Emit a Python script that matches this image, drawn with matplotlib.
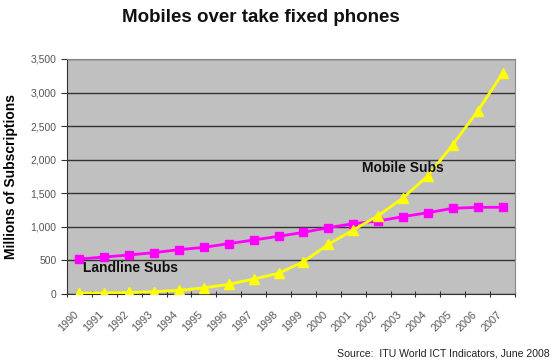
import matplotlib
matplotlib.use("Agg")
import matplotlib.pyplot as plt
from matplotlib.transforms import ScaledTranslation
import numpy as np

years = [str(y) for y in range(1990, 2008)]
landline = [521, 551, 581, 616, 660, 695, 750, 804, 859, 918, 988, 1047, 1087, 1152, 1211, 1276, 1291, 1291]
mobile = [11, 16, 23, 34, 55, 91, 144, 223, 308, 481, 740, 953, 1167, 1430, 1762, 2224, 2725, 3286]
yticks = [0, 500, 1000, 1500, 2000, 2500, 3000, 3500]

plt.rcParams['font.family'] = ['Liberation Sans', 'DejaVu Sans']
fig = plt.figure(figsize=(5.55, 3.64), dpi=100)
ax = fig.add_axes([0.1207, 0.1923, 0.8073, 0.6457])
ax.set_facecolor('#C0C0C0')
x = np.arange(len(years))
ax.plot(x, landline, color='#FF00FF', lw=2, marker='s', ms=6, zorder=3)
ax.plot(x, mobile, color='#FFFF00', lw=2, marker='^', ms=7, zorder=3)

ax.set_xlim(-0.5, len(years) - 0.5)
ax.set_ylim(0, 3500)
ax.set_yticks(yticks)
ax.set_yticklabels([f"{v:,}" for v in yticks], fontsize=7.5, color='#555555')
ax.yaxis.grid(True, color='#333333', lw=1)
ax.set_axisbelow(True)
ax.set_xticks(np.arange(-0.5, len(years), 1))
ax.set_xticklabels([])
ax.set_xticks(x, minor=True)
ax.set_xticklabels(years, minor=True, rotation=45, ha='right', rotation_mode='anchor', fontsize=7.8, color='#555555')
ax.tick_params(axis='x', which='minor', length=0, pad=11)
ax.tick_params(axis='x', which='major', length=4, direction='inout', color='#333333')
ax.tick_params(axis='y', length=4, color='#333333')
off = ScaledTranslation(-6 / 100, 0, fig.dpi_scale_trans)
for lab in ax.xaxis.get_minorticklabels():
    lab.set_transform(lab.get_transform() + off)
for s in ['top', 'right']:
    ax.spines[s].set_color('#888888')
for s in ['left', 'bottom']:
    ax.spines[s].set_color('#333333')

ax.set_ylabel('Millions of Subscriptions', fontsize=10, fontweight='bold', labelpad=9)
ax.text(0.14, 387, 'Landline Subs', fontsize=10, fontweight='bold', color='#111111', va='center', ha='left')
ax.text(11.35, 1877, 'Mobile Subs', fontsize=10, fontweight='bold', color='#111111', va='center', ha='left')

fig.text(0.47, 0.953, 'Mobiles over take fixed phones', fontsize=13.5, fontweight='bold', ha='center', va='center', color='#111111')
fig.text(0.99, 0.028, 'Source:  ITU World ICT Indicators, June 2008', fontsize=7.6, ha='right', va='center', color='#222222')

fig.savefig('out.png', dpi=100)
